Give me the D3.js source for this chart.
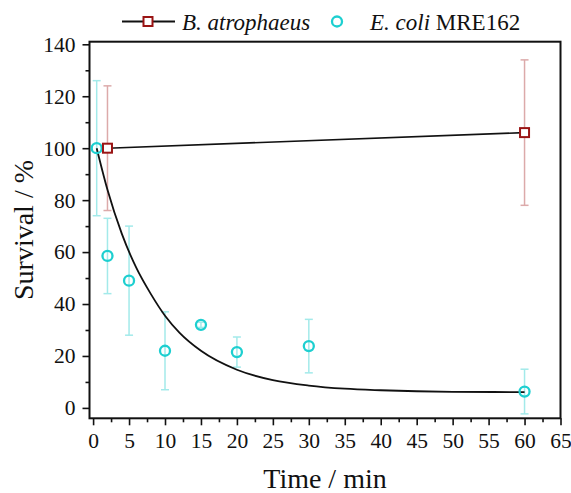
<!DOCTYPE html>
<html>
<head>
<meta charset="utf-8">
<script src="https://cdn.jsdelivr.net/npm/d3@7"></script>
<style>
  body { margin: 0; background: #fff; }
  svg text { font-family: "Liberation Serif", "Times New Roman", serif; fill: #111; }
</style>
</head>
<body>
<script>
const canvWidth = 571, canvHeight = 493;

// B. atrophaeus
const bTime = [2, 60];
const bSurv = [100, 106];
const bErr = [24, 28];

// E. coli MRE162
const eTime = [0.5, 2, 5, 10, 15, 20, 30, 60];
const eSurv = [100, 58.5, 49, 22, 32, 21.5, 23.8, 6.3];
const eErr = [26, 14.5, 21, 15, 1, 5.8, 10.3, 8.6];

// exponential decay fit
const fitTime = [0.5, 2, 4, 6, 8, 10, 12, 15, 20, 25, 30, 35, 40, 50, 60];
const fitSurv = [100, 84, 67, 54, 44, 35.5, 29, 22, 14.7, 10.7, 8.6, 7.4, 6.8, 6.2, 6.1];

const xTicks = d3.range(0, 66, 5);
const xMinor = d3.range(2.5, 65, 5);
const yTicks = d3.range(0, 141, 20);
const yMinor = d3.range(10, 140, 20);

const red = "#9a1414", redErr = "#dcaaaa";
const cyan = "#1dcfd0", cyanErr = "#a3eaea";

const svg = d3.select("body").append("svg")
    .attr("width", canvWidth)
    .attr("height", canvHeight);

const plot = {left: 89.5, right: 560.5, top: 41.7, bottom: 418.3};

const x = d3.scaleLinear().domain([-0.5, 65]).range([plot.left, plot.right]);
const y = d3.scaleLinear().domain([-4, 141]).range([plot.bottom, plot.top]);

// axes
svg.append("g")
    .attr("transform", "translate(0," + plot.bottom + ")")
    .call(d3.axisBottom(x).tickValues(xTicks).tickSize(7).tickSizeOuter(0).tickPadding(7));
svg.append("g")
    .attr("transform", "translate(0," + plot.bottom + ")")
    .call(d3.axisBottom(x).tickValues(xMinor).tickSize(4).tickFormat("").tickSizeOuter(0));

svg.append("g")
    .attr("transform", "translate(" + plot.left + ",0)")
    .call(d3.axisLeft(y).tickValues(yTicks).tickSize(7).tickSizeOuter(0).tickPadding(7));
svg.append("g")
    .attr("transform", "translate(" + plot.left + ",0)")
    .call(d3.axisLeft(y).tickValues(yMinor).tickSize(4).tickFormat("").tickSizeOuter(0));

svg.selectAll(".domain").remove();
svg.selectAll(".tick line").attr("stroke", "#111").attr("stroke-width", 1.6);
svg.selectAll(".tick text")
    .style("font-family", "'Liberation Serif', serif")
    .style("font-size", "21.5px")
    .attr("fill", "#111");

// frame
svg.append("rect")
    .attr("x", plot.left)
    .attr("y", plot.top)
    .attr("width", plot.right - plot.left)
    .attr("height", plot.bottom - plot.top)
    .attr("fill", "none")
    .attr("stroke", "#111")
    .attr("stroke-width", 2);

// axis titles
svg.append("text")
    .attr("x", (plot.left + plot.right) / 2)
    .attr("y", 488)
    .attr("font-size", "28px")
    .style("text-anchor", "middle")
    .text("Time / min");

svg.append("text")
    .attr("transform", "translate(33," + ((plot.top + plot.bottom) / 2) + ") rotate(-90)")
    .attr("font-size", "28px")
    .style("text-anchor", "middle")
    .text("Survival / %");

// error bars
function errorBars(times, vals, errs, color) {
    const g = svg.append("g")
        .attr("stroke", color)
        .attr("stroke-width", 1.5);
    times.forEach(function (t, i) {
        const cx = x(t), y1 = y(vals[i] + errs[i]), y2 = y(vals[i] - errs[i]);
        g.append("line").attr("x1", cx).attr("x2", cx).attr("y1", y1).attr("y2", y2);
        g.append("line").attr("x1", cx - 4).attr("x2", cx + 4).attr("y1", y1).attr("y2", y1);
        g.append("line").attr("x1", cx - 4).attr("x2", cx + 4).attr("y1", y2).attr("y2", y2);
    });
}
errorBars(eTime, eSurv, eErr, cyanErr);
errorBars(bTime, bSurv, bErr, redErr);

// lines
const line = d3.line().x(d => x(d[0])).y(d => y(d[1]));

svg.append("path")
    .attr("d", line.curve(d3.curveMonotoneX)(d3.zip(fitTime, fitSurv)))
    .attr("fill", "none")
    .attr("stroke", "#111")
    .attr("stroke-width", 1.8);

svg.append("path")
    .attr("d", line.curve(d3.curveLinear)(d3.zip(bTime, bSurv)))
    .attr("fill", "none")
    .attr("stroke", "#111")
    .attr("stroke-width", 1.6);

// markers
svg.append("g").selectAll("circle")
    .data(d3.zip(eTime, eSurv))
    .join("circle")
    .attr("cx", d => x(d[0]))
    .attr("cy", d => y(d[1]))
    .attr("r", 5)
    .attr("fill", "none")
    .attr("stroke", cyan)
    .attr("stroke-width", 2.3);

svg.append("g").selectAll("rect")
    .data(d3.zip(bTime, bSurv))
    .join("rect")
    .attr("x", d => x(d[0]) - 4.5)
    .attr("y", d => y(d[1]) - 4.5)
    .attr("width", 9)
    .attr("height", 9)
    .attr("fill", "#fff")
    .attr("stroke", red)
    .attr("stroke-width", 2);

// legend
const legend = svg.append("g").attr("id", "legend");
legend.append("line")
    .attr("x1", 122).attr("x2", 175).attr("y1", 21.5).attr("y2", 21.5)
    .attr("stroke", "#111").attr("stroke-width", 1.8);
legend.append("rect")
    .attr("x", 143.5).attr("y", 17).attr("width", 9).attr("height", 9)
    .attr("fill", "#fff").attr("stroke", red).attr("stroke-width", 2);
legend.append("text")
    .attr("x", 182).attr("y", 29.5)
    .attr("font-size", "23px")
    .style("font-style", "italic")
    .text("B. atrophaeus");
legend.append("circle")
    .attr("cx", 337).attr("cy", 21.5).attr("r", 5)
    .attr("fill", "none").attr("stroke", cyan).attr("stroke-width", 2.3);
const eLabel = legend.append("text")
    .attr("x", 370).attr("y", 29.5)
    .attr("font-size", "23px");
eLabel.append("tspan").style("font-style", "italic").text("E. coli");
eLabel.append("tspan").text(" MRE162");
</script>
</body>
</html>
